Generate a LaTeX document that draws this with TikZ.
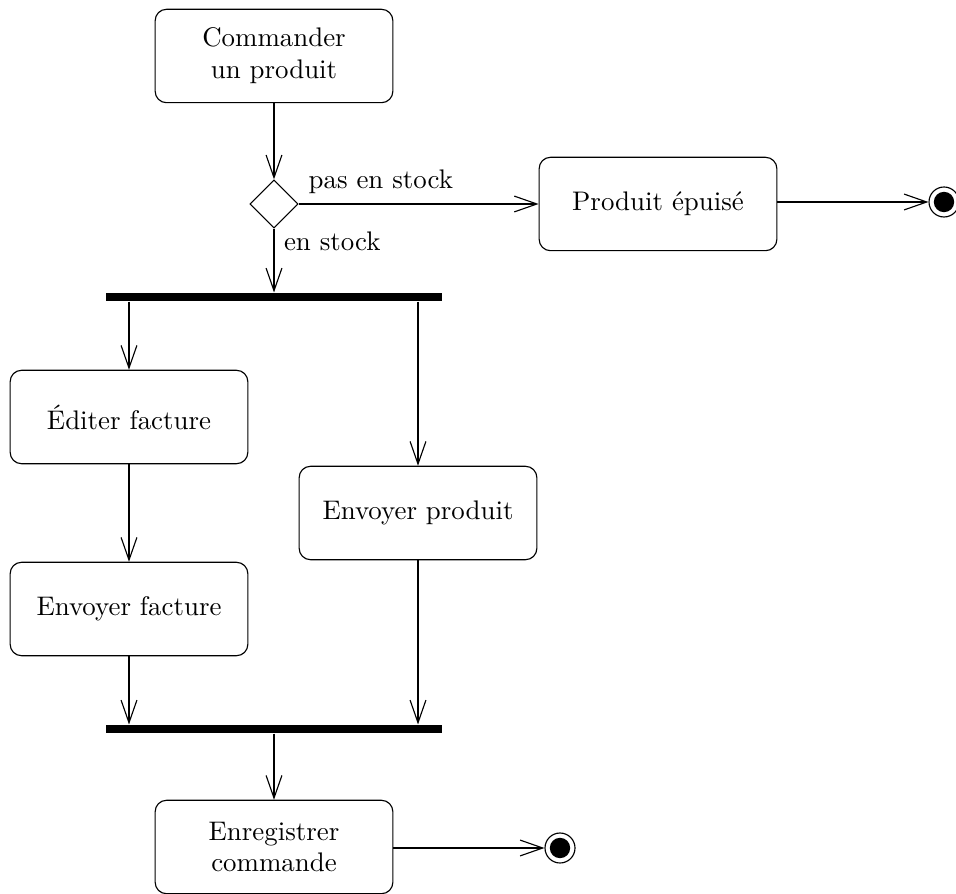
\documentclass[tikz,border=0pt]{standalone}
\usetikzlibrary{positioning, shapes.geometric, arrows.meta}

\begin{document}
\begin{tikzpicture}[
            x=0.3534pt, y=-0.3534pt,
            action/.style={draw=black, rectangle, rounded corners=4pt, minimum width=84pt, minimum height=33pt, align=center, font=\fontsize{9.5}{11.3}\selectfont},
            choice/.style={draw=black, diamond, minimum size=17pt, inner sep=0pt},
            bar/.style={fill=black, rectangle, minimum width=119pt, minimum height=2.8pt, inner sep=0pt},
            final/.style={circle, draw=black, minimum size=10.6pt, inner sep=0pt, path picture={\fill[black] (path picture bounding box.center) circle (3.6pt);}},
            flow/.style={-{Straight Barb[length=8pt, width=5.6pt]}},
            guard/.style={font=\fontsize{9.5}{11.3}\selectfont}
        ]
        \useasboundingbox (0,0) rectangle (956,894);

        % Knoten
        \node[action] (order) at (274,56) {Commander\\un produit};
        \node[choice] (stock) at (274,204) {};
        \node[action] (soldout) at (658,204) {Produit épuisé};
        \node[final] (end1) at (944,202) {};
        \node[bar] (fork) at (274,297) {};
        \node[action] (invoice) at (129,417) {Éditer facture};
        \node[action] (ship) at (418,513) {Envoyer produit};
        \node[action] (sendinv) at (129,609) {Envoyer facture};
        \node[bar] (join) at (274,729) {};
        \node[action] (record) at (274,847) {Enregistrer\\commande};
        \node[final] (end2) at (560,848) {};

        % Kanten
        \draw[flow] (order) -- (stock);
        \draw[flow] (stock) -- (soldout) node[pos=0, above right, guard] {pas en stock};
        \draw[flow] (soldout.east |- end1) -- (end1);
        \draw[flow] (stock) -- (fork) node[pos=0.2, right, guard] {en stock};
        \draw[flow] (fork.south -| invoice) -- (invoice);
        \draw[flow] (fork.south -| ship) -- (ship);
        \draw[flow] (invoice) -- (sendinv);
        \draw[flow] (sendinv) -- (sendinv |- join.north);
        \draw[flow] (ship) -- (ship |- join.north);
        \draw[flow] (join) -- (record);
        \draw[flow] (record.east |- end2) -- (end2);

    \end{tikzpicture}
\end{document}
